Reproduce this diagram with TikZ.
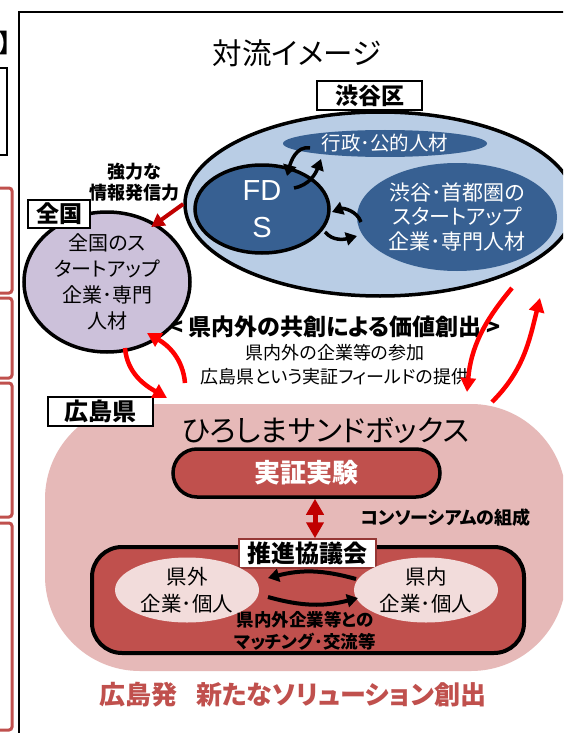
\documentclass[tikz,border=0pt]{standalone}
\usepackage{fontspec}
\setmainfont{Noto Sans CJK JP}[RawFeature=+palt]
\newfontfamily\latfont{Liberation Sans}
\usetikzlibrary{shapes.geometric,arrows.meta}
\definecolor{lblue}{HTML}{B9CDE5}
\definecolor{dblue}{HTML}{376092}
\definecolor{lav}{HTML}{CCC1DA}
\definecolor{pinkbg}{HTML}{E6B9B8}
\definecolor{brick}{HTML}{C0504D}
\definecolor{lpink}{HTML}{F2DCDB}
\definecolor{dred}{HTML}{C00000}
\definecolor{lblborder}{HTML}{953735}
\newcommand{\myfs}[2]{\fontsize{#1pt}{#2pt}\selectfont}
\tikzset{
  lbl/.style={draw=black, line width=1.5pt, fill=white, inner sep=0pt, font=\bfseries\myfs{23}{23}},
  blkarr/.style={draw=black, line width=3.5pt, -{Triangle[length=11pt,width=13pt]}},
  redarr/.style={draw=red, line width=4.5pt, -{Triangle[length=14pt,width=15pt]}},
  blob/.style={ellipse, inner sep=0pt, align=center},
  redbox/.style={draw=brick, line width=3pt, rounded corners=3pt},
}
\begin{document}
\begin{tikzpicture}[x=1pt,y=1pt]
\useasboundingbox (0,0) rectangle (563,-733);
\clip (0,0) rectangle (563,-733);
\fill[white] (0,0) rectangle (563,-733);

% left strip (cut-off neighbouring panel)
\node[font=\bfseries\myfs{25}{25}, anchor=west, inner sep=0pt] (brk) at (-1,-43.5) {】};
\draw[line width=1.2pt] (-5,-68) rectangle (7,-155);
\draw[redbox] (-10,-188) rectangle (12,-293);
\draw[redbox] (-10,-298) rectangle (12,-378);
\draw[redbox] (-10,-383) rectangle (12,-517);
\draw[redbox] (-10,-523) rectangle (12,-730);

% frame
\draw[line width=1.5pt] (19,-740) -- (19,-12) -- (570,-12);

% title
\node[font=\myfs{29.5}{29.5}, inner sep=0pt] (title) at (297,-53) {対流イメージ};

% Shibuya
\node[blob, draw=black, line width=3.5pt, fill=lblue, minimum width=390pt, minimum height=184pt] (shib) at (380,-204) {};
\node[blob, fill=dblue, minimum width=204pt, minimum height=27pt, text=white, font=\myfs{19.5}{19.5}] (gyo) at (385,-143.5) {行政･公的人材};
\node[blob, draw=black, line width=3.5pt, fill=dblue, minimum width=134pt, minimum height=88pt, text=white, font=\latfont\myfs{29}{37}] (fds) at (262,-209) {FD\\S};
\node[blob, fill=dblue, minimum width=200pt, minimum height=108pt, text=white, font=\myfs{21}{24.5}] (shu) at (457,-217) {渋谷･首都圏の\\スタートアップ\\企業･専門人材};
\node[lbl, minimum width=105pt, minimum height=29pt] (shiblab) at (369.5,-95.5) {渋谷区};

% black curved arrows around FDS
\coordinate (a1s) at (310,-148); \coordinate (a1e) at (287,-176);
\coordinate (a2s) at (294,-188); \coordinate (a2e) at (321,-159);
\coordinate (a3s) at (361,-222); \coordinate (a3e) at (332,-212);
\coordinate (a4s) at (325,-232); \coordinate (a4e) at (357,-236);
\draw[blkarr] (a1s) to[out=170,in=75] (a1e);
\draw[blkarr] (a2s) to[out=10,in=250] (a2e);
\draw[blkarr] (a3s) to[out=110,in=20] (a3e);
\draw[blkarr] (a4s) to[out=-50,in=195] (a4e);

% middle texts
\node[font=\bfseries\myfs{18}{21}, align=center, inner sep=0pt] (kyoryoku) at (134,-182.5) {強力な\\情報発信力};
\node[font=\bfseries\myfs{23}{23}, inner sep=0pt] (kyoso) at (335,-327) {< 県内外の共創による価値創出 >};
\node[font=\myfs{18}{24}, align=center, inner sep=0pt] (sub) at (335,-365) {県内外の企業等の参加\\広島県という実証フィールドの提供};

% Zenkoku
\node[blob, draw=black, line width=3.5pt, fill=lav, minimum width=166pt, minimum height=140pt, font=\myfs{20}{26}] (zen) at (107,-282) {全国のス\\タートアップ\\企業･専門\\人材};
\node[lbl, minimum width=62pt, minimum height=28pt] (zenlab) at (59,-214) {全国};
\draw[dred, line width=4pt, -{Triangle[length=13pt,width=14pt]}, shorten >=-6pt] (shib.west) -- (zen.50);

% Hiroshima
\node[fill=pinkbg, rounded corners=95pt, minimum width=521pt, minimum height=267pt, inner sep=0pt] (hiro) at (305.5,-537.5) {};
\node[lbl, minimum width=105pt, minimum height=29pt, font=\bfseries\myfs{24}{24}] (hirolab) at (100.5,-411.5) {広島県};
\node[font=\myfs{29.5}{29.5}, inner sep=0pt] (sb) at (325.5,-431) {ひろしまサンドボックス};
\node[draw=black, line width=3.5pt, fill=brick, rounded corners=24pt, minimum width=267pt, minimum height=48pt, inner sep=0pt, text=white, font=\bfseries\myfs{26}{26}] (jis) at (306.5,-473) {実証実験};
\node[draw=black, line width=4pt, fill=brick, rounded corners=30pt, minimum width=432pt, minimum height=106pt, inner sep=0pt] (kyogi) at (308,-600) {};
\node[draw=lblborder, line width=1.5pt, fill=white, minimum width=137pt, minimum height=29pt, inner sep=0pt, font=\bfseries\myfs{24}{24}] (kyolab) at (307.5,-553.5) {推進協議会};
\draw[dred, line width=5pt, {Triangle[length=16pt,width=17pt]}-{Triangle[length=16pt,width=17pt]}] ([xshift=8.5pt]jis.south) -- ([xshift=7.5pt]kyolab.north);
\node[font=\bfseries\myfs{18}{18}, inner sep=0pt] (cons) at (445.5,-518) {コンソーシアムの組成};
\node[blob, fill=lpink, minimum width=144pt, minimum height=65pt, font=\myfs{20.5}{27}] (kengai) at (187,-590) {県外\\企業･個人};
\node[blob, fill=lpink, minimum width=144pt, minimum height=65pt, font=\myfs{20.5}{27}] (kennai) at (426,-590) {県内\\企業･個人};
\coordinate (u1) at (356,-579); \coordinate (u2) at (268,-578);
\coordinate (d1) at (268,-597); \coordinate (d2) at (358,-598);
\draw[blkarr, line width=4pt] (u1) to[bend right=15] (u2);
\draw[blkarr, line width=4pt] (d1) to[bend right=15] (d2);
\node[font=\bfseries\myfs{17.5}{22}, align=center, inner sep=0pt] (match) at (305,-631) {県内外企業等との\\マッチング･交流等};
\node[text=brick, font=\bfseries\myfs{26}{26}, inner sep=0pt] (hass) at (293,-695) {広島発\hspace{0.7em}新たなソリューション創出};

% red exchange arrows
\coordinate (l1a) at (185,-383); \coordinate (l1b) at (147,-333);
\coordinate (l2a) at (125,-348); \coordinate (l2b) at (167,-398);
\coordinate (r1a) at (512,-288); \coordinate (r1b) at (467,-392);
\coordinate (r2a) at (492,-402); \coordinate (r2b) at (540,-298);
\draw[redarr] (l1a) to[out=95,in=-30] (l1b);
\draw[redarr] (l2a) to[out=-85,in=150] (l2b);
\draw[redarr] (r1a) to[out=230,in=85] (r1b);
\draw[redarr] (r2a) to[out=45,in=-104] (r2b);
\end{tikzpicture}
\end{document}
